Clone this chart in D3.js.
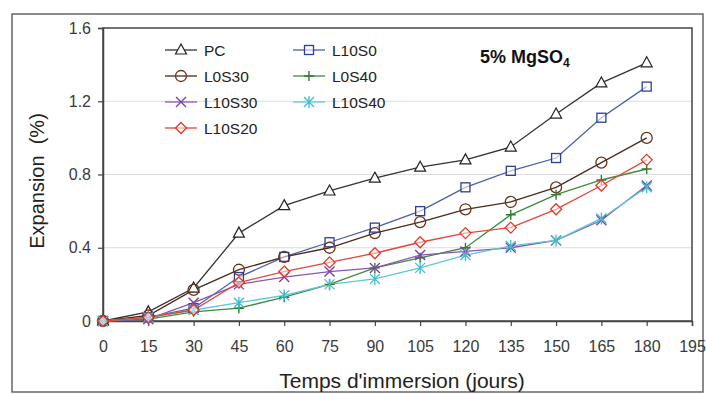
<!DOCTYPE html>
<html>
<head>
<meta charset="utf-8">
<script src="https://cdn.jsdelivr.net/npm/d3@7"></script>
<style>
  body { margin: 0; background: #fff; }
  svg { display: block; font-family: "Liberation Sans", Arial, sans-serif; }
</style>
</head>
<body>
<svg id="svg" width="706" height="394"></svg>
<script>
// data
var days = [0, 15, 30, 45, 60, 75, 90, 105, 120, 135, 150, 165, 180];
var xTicks = [0, 15, 30, 45, 60, 75, 90, 105, 120, 135, 150, 165, 180, 195];
var yTicks = [0, 0.4, 0.8, 1.2, 1.6];
var seriesNames = ['PC', 'L10S0', 'L0S30', 'L0S40', 'L10S30', 'L10S40', 'L10S20'];
var PC     = [0, 0.05, 0.18, 0.48, 0.63, 0.71, 0.78, 0.84, 0.88, 0.95, 1.13, 1.30, 1.41];
var L10S0  = [0, 0.02, 0.07, 0.24, 0.35, 0.43, 0.51, 0.60, 0.73, 0.82, 0.89, 1.11, 1.28];
var L0S30  = [0, 0.03, 0.17, 0.28, 0.35, 0.40, 0.48, 0.54, 0.61, 0.65, 0.73, 0.865, 1.00];
var L0S40  = [0, 0.01, 0.05, 0.07, 0.13, 0.20, 0.29, 0.345, 0.40, 0.58, 0.69, 0.77, 0.83];
var L10S30 = [0, 0.01, 0.10, 0.20, 0.24, 0.27, 0.29, 0.36, 0.38, 0.40, 0.44, 0.55, 0.74];
var L10S40 = [0, 0.02, 0.06, 0.10, 0.14, 0.20, 0.23, 0.29, 0.36, 0.41, 0.44, 0.56, 0.73];
var L10S20 = [0, 0.02, 0.06, 0.21, 0.27, 0.32, 0.37, 0.43, 0.48, 0.51, 0.61, 0.74, 0.88];

var svg, margin, innerWidth, innerHeight;

document.addEventListener('DOMContentLoaded', function () {
    svg = d3.select('#svg');
    margin = { top: 28, left: 103, right: 14, bottom: 73 };
    innerWidth = 692 - margin.left;
    innerHeight = 321 - margin.top;
    drawChart();
});

function drawChart() {
    var values = { PC: PC, L10S0: L10S0, L0S30: L0S30, L0S40: L0S40, L10S30: L10S30, L10S40: L10S40, L10S20: L10S20 };
    var styles = {
        PC:     { line: '#333333', mark: '#222222', shape: 'tri' },
        L10S0:  { line: '#4a5fa8', mark: '#2c3f95', shape: 'square' },
        L0S30:  { line: '#4a2a1e', mark: '#6b3418', shape: 'circle' },
        L0S40:  { line: '#3f8a3f', mark: '#2f7a2f', shape: 'plus' },
        L10S30: { line: '#8a55b0', mark: '#8040b0', shape: 'x' },
        L10S40: { line: '#5cc8d8', mark: '#40bcd0', shape: 'star' },
        L10S20: { line: '#e0483a', mark: '#e03a28', shape: 'diamond' }
    };

    var xScale = d3.scaleLinear().domain([0, 195]).range([0, innerWidth]);
    var yScale = d3.scaleLinear().domain([0, 1.6]).range([innerHeight, 0]);

    // outer frame
    svg.append('rect')
        .attr('x', 12).attr('y', 14).attr('width', 691).attr('height', 378)
        .attr('fill', 'none').attr('stroke', '#666').attr('stroke-width', 1.5);

    var g = svg.append('g')
        .attr('transform', 'translate(' + margin.left + ',' + margin.top + ')');

    // grid
    g.selectAll('.grid')
        .data(yTicks.filter(d => d > 0 && d < 1.6))
        .join('line')
        .attr('x1', 0).attr('x2', innerWidth)
        .attr('y1', d => yScale(d)).attr('y2', d => yScale(d))
        .attr('stroke', '#dcdcdc').attr('stroke-width', 1);

    // plot box
    g.append('rect')
        .attr('width', innerWidth).attr('height', innerHeight)
        .attr('fill', 'none').attr('stroke', '#444').attr('stroke-width', 1.5);

    var xAxis = d3.axisBottom(xScale).tickValues(xTicks).tickSize(5).tickPadding(15).tickFormat(d3.format('d'));
    var xg = g.append('g').attr('transform', 'translate(0,' + innerHeight + ')').call(xAxis);
    var yAxis = d3.axisLeft(yScale).tickValues(yTicks).tickSize(5).tickPadding(7).tickFormat(d => d === 0 ? '0' : d3.format('.1f')(d));
    var yg = g.append('g').call(yAxis);
    [xg, yg].forEach(function (a) {
        a.select('.domain').attr('stroke', '#444').attr('stroke-width', 1.5);
        a.selectAll('.tick line').attr('stroke', '#444').attr('stroke-width', 1.2);
        a.selectAll('.tick text').attr('fill', '#3a3a3a').style('font-size', '16px')
            .style('font-family', '"Liberation Sans", Arial, sans-serif');
    });

    // axis titles
    svg.append('text')
        .attr('x', 402).attr('y', 388)
        .attr('text-anchor', 'middle')
        .style('font-size', '21px').attr('fill', '#222')
        .text("Temps d'immersion (jours)");
    svg.append('text')
        .attr('transform', 'translate(44,181) rotate(-90)')
        .attr('text-anchor', 'middle')
        .style('font-size', '20px').attr('fill', '#222')
        .text('Expansion\u00a0\u00a0(%)');

    // title
    var t = svg.append('text').attr('x', 480).attr('y', 63)
        .style('font-size', '18px').style('font-weight', 'bold').attr('fill', '#111');
    t.append('tspan').text('5% MgSO');
    t.append('tspan').attr('dy', 4).style('font-size', '12px').text('4');

    var line = d3.line().x((d, i) => xScale(days[i])).y(d => yScale(d));

    seriesNames.forEach(function (name) {
        g.append('path')
            .datum(values[name])
            .attr('d', line)
            .attr('fill', 'none')
            .attr('stroke', styles[name].line)
            .attr('stroke-width', 1.3);
    });

    seriesNames.forEach(function (name) {
        var mg = g.append('g');
        values[name].forEach(function (v, i) {
            drawMarker(mg, xScale(days[i]), yScale(v), styles[name].shape, styles[name].mark);
        });
    });

    // legend
    var legendItems = [
        { name: 'PC', x: 165, y: 50 },
        { name: 'L0S30', x: 165, y: 76 },
        { name: 'L10S30', x: 165, y: 102 },
        { name: 'L10S20', x: 165, y: 128 },
        { name: 'L10S0', x: 293, y: 50 },
        { name: 'L0S40', x: 293, y: 76 },
        { name: 'L10S40', x: 293, y: 102 }
    ];
    legendItems.forEach(function (it) {
        var lg = svg.append('g').attr('transform', 'translate(' + it.x + ',' + it.y + ')');
        lg.append('line').attr('x1', 0).attr('x2', 32).attr('y1', 0).attr('y2', 0)
            .attr('stroke', styles[it.name].line).attr('stroke-width', 1.3);
        drawMarker(lg, 16, 0, styles[it.name].shape, styles[it.name].mark);
        lg.append('text').attr('x', 39).attr('y', 5.5)
            .style('font-size', '15.5px').attr('fill', '#222').text(it.name);
    });
}

function drawMarker(sel, x, y, shape, color) {
    var s = 5;
    if (shape === 'tri') {
        sel.append('path').attr('d', 'M' + x + ',' + (y - 6) + 'L' + (x + 5.5) + ',' + (y + 4) + 'L' + (x - 5.5) + ',' + (y + 4) + 'Z')
            .attr('fill', '#fff').attr('stroke', color).attr('stroke-width', 1.2);
    } else if (shape === 'square') {
        sel.append('rect').attr('x', x - 4.5).attr('y', y - 4.5).attr('width', 9).attr('height', 9)
            .attr('fill', '#fff').attr('fill-opacity', 0.6).attr('stroke', color).attr('stroke-width', 1.3);
    } else if (shape === 'circle') {
        sel.append('circle').attr('cx', x).attr('cy', y).attr('r', 5.5)
            .attr('fill', 'none').attr('stroke', color).attr('stroke-width', 1.3);
    } else if (shape === 'plus') {
        sel.append('path').attr('d', 'M' + (x - s) + ',' + y + 'H' + (x + s) + 'M' + x + ',' + (y - s) + 'V' + (y + s))
            .attr('stroke', color).attr('stroke-width', 1.4);
    } else if (shape === 'x') {
        sel.append('path').attr('d', 'M' + (x - s) + ',' + (y - s) + 'L' + (x + s) + ',' + (y + s) + 'M' + (x - s) + ',' + (y + s) + 'L' + (x + s) + ',' + (y - s))
            .attr('stroke', color).attr('stroke-width', 1.4);
    } else if (shape === 'star') {
        sel.append('path').attr('d', 'M' + (x - s) + ',' + (y - s) + 'L' + (x + s) + ',' + (y + s) + 'M' + (x - s) + ',' + (y + s) + 'L' + (x + s) + ',' + (y - s) + 'M' + x + ',' + (y - s - 1) + 'V' + (y + s + 1))
            .attr('stroke', color).attr('stroke-width', 1.3);
    } else if (shape === 'diamond') {
        sel.append('path').attr('d', 'M' + x + ',' + (y - 5.5) + 'L' + (x + 5.5) + ',' + y + 'L' + x + ',' + (y + 5.5) + 'L' + (x - 5.5) + ',' + y + 'Z')
            .attr('fill', '#fff').attr('fill-opacity', 0.5).attr('stroke', color).attr('stroke-width', 1.3);
    }
}
</script>
</body>
</html>
